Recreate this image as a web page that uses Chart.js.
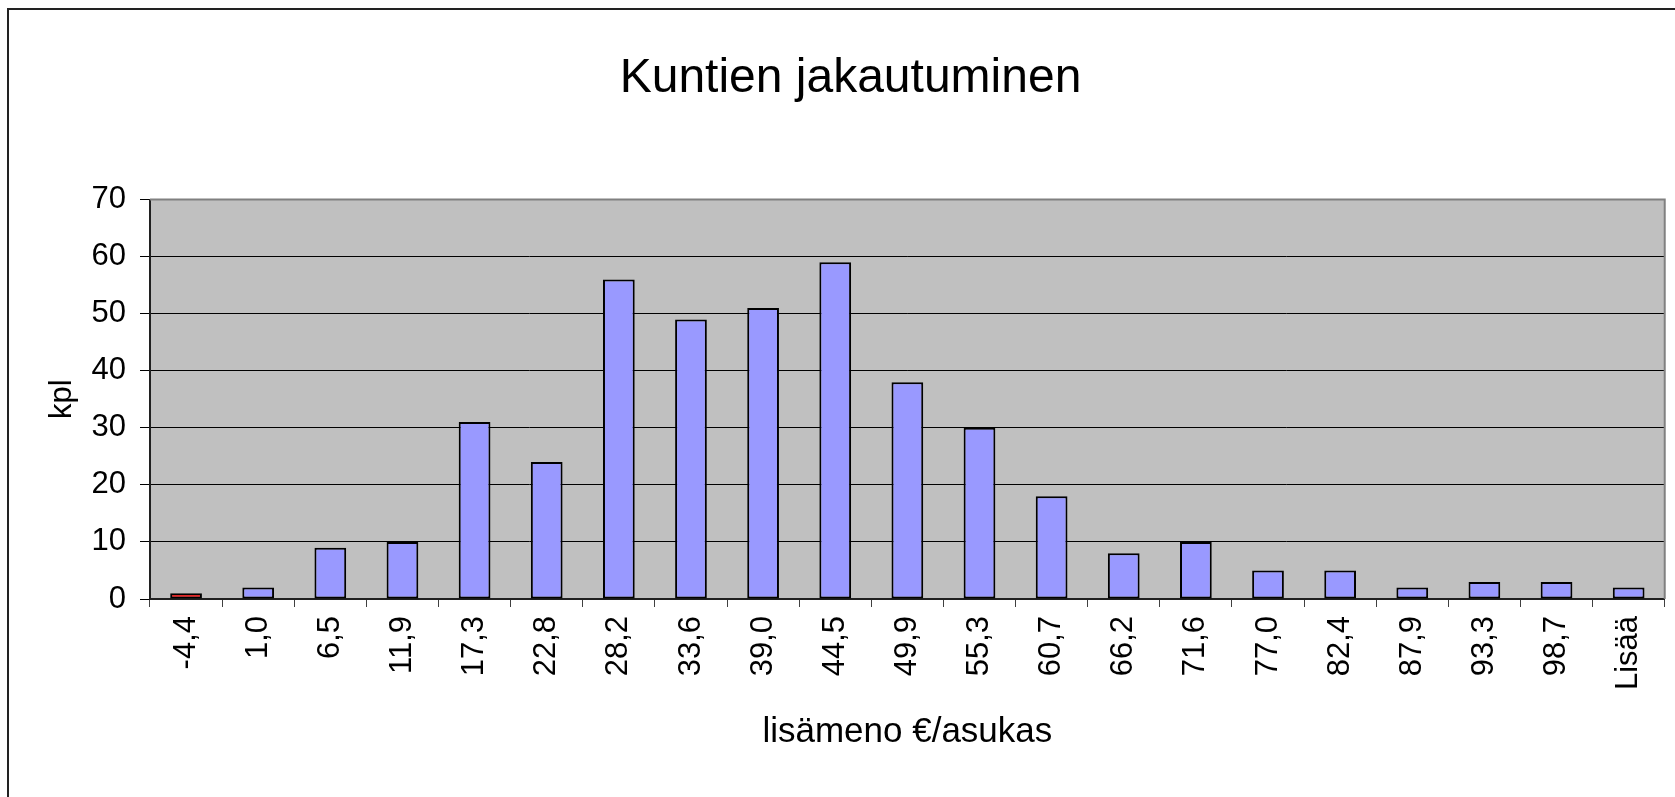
<!DOCTYPE html>
<html>
<head>
<meta charset="utf-8">
<title>Kuntien jakautuminen</title>
<script src="https://cdn.jsdelivr.net/npm/chart.js@4/dist/chart.umd.min.js"></script>
<style>
  body { margin: 0; background: #fff; overflow: hidden; }
  #frame { position: absolute; left: 7px; top: 8px; width: 1700px; height: 800px; border-left: 2px solid #222; border-top: 2px solid #222; }
  #chart { position: absolute; left: 0; top: 0; }
</style>
</head>
<body>
<div id="frame"></div>
<canvas id="chart" width="1675" height="797"></canvas>
<script>
// bins (lisämeno €/asukas) and number of municipalities in each
const labels = ['-4,4', '1,0', '6,5', '11,9', '17,3', '22,8', '28,2', '33,6', '39,0', '44,5',
  '49,9', '55,3', '60,7', '66,2', '71,6', '77,0', '82,4', '87,9', '93,3', '98,7', 'Lisää'];
const counts = [1, 2, 9, 10, 31, 24, 56, 49, 51, 59, 38, 30, 18, 8, 10, 5, 5, 2, 3, 3, 2];
const yTicks = [0, 10, 20, 30, 40, 50, 60, 70];

const font = 'Liberation Sans, Arial, sans-serif';

// grey plot background + grey frame on top/right, like the old Excel chart
const plotArea = {
  id: 'plotArea',
  beforeDraw(chart) {
    const { ctx, chartArea: a } = chart;
    ctx.save();
    ctx.fillStyle = '#C0C0C0';
    ctx.fillRect(a.left, a.top, a.right - a.left, a.bottom - a.top);
    ctx.restore();
  },
  beforeDatasetsDraw(chart) {
    const { ctx, chartArea: a } = chart;
    ctx.save();
    ctx.strokeStyle = '#808080';
    ctx.lineWidth = 2;
    ctx.beginPath();
    ctx.moveTo(a.left, a.top);
    ctx.lineTo(a.right, a.top);
    ctx.lineTo(a.right, a.bottom);
    ctx.stroke();
    ctx.restore();
  }
};

const ctx = document.getElementById('chart').getContext('2d');
const chart = new Chart(ctx, {
  type: 'bar',
  data: {
    labels: labels,
    datasets: [{
      data: counts,
      backgroundColor: c => labels[c.dataIndex].startsWith('-') ? '#FF0000' : '#9999FF',
      borderColor: '#000',
      borderWidth: 2,
      borderSkipped: false,
      barPercentage: 0.44,
      categoryPercentage: 1
    }]
  },
  options: {
    responsive: false,
    animation: false,
    layout: { padding: { left: 32, right: 6, top: 0, bottom: 0 } },
    plugins: {
      legend: { display: false },
      tooltip: { enabled: false },
      title: {
        display: true,
        text: 'Kuntien jakautuminen',
        color: '#000',
        font: { family: font, size: 48, weight: 'normal' },
        padding: { top: 50, bottom: 92 }
      }
    },
    scales: {
      x: {
        grid: { offset: true, drawOnChartArea: false, drawTicks: true, tickLength: 8, color: '#404040' },
        border: { color: '#202020', width: 2 },
        ticks: {
          color: '#000',
          font: { family: font, size: 31 },
          minRotation: 90,
          maxRotation: 90,
          autoSkip: false,
          padding: 9
        },
        title: {
          display: true,
          text: 'lisämeno €/asukas',
          color: '#000',
          font: { family: font, size: 35 },
          padding: { top: 0, bottom: 44 }
        },
        afterFit: s => { s.height = 198; }
      },
      y: {
        min: 0,
        max: 70,
        afterBuildTicks: s => { s.ticks = yTicks.map(v => ({ value: v })); },
        grid: { color: '#000', lineWidth: 1, tickLength: 10, drawTicks: true },
        border: { color: '#202020', width: 2 },
        ticks: {
          color: '#000',
          font: { family: font, size: 31 },
          padding: 14
        },
        title: {
          display: true,
          text: 'kpl',
          color: '#000',
          font: { family: font, size: 31 },
          padding: { top: 12, bottom: 0 }
        },
        afterFit: s => { s.width = 118; }
      }
    }
  },
  plugins: [plotArea]
});
</script>
</body>
</html>
